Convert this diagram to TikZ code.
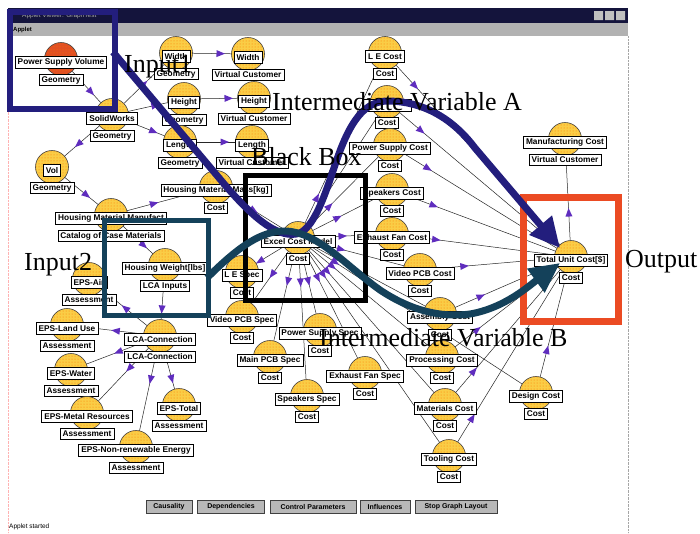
\documentclass[tikz,border=0pt]{standalone}
\usepackage{fontspec}
\setmainfont{Liberation Serif}
\setsansfont{Liberation Sans}
\usepackage{tikz}
\usetikzlibrary{arrows.meta,decorations.markings,patterns}
\definecolor{ballyellow}{RGB}{250,205,70}
\definecolor{ballred}{RGB}{225,80,35}
\definecolor{navyline}{RGB}{35,30,125}
\definecolor{tealline}{RGB}{20,65,90}
\definecolor{boxred}{RGB}{235,75,35}
\definecolor{arrowpurple}{RGB}{95,45,190}
\definecolor{titlebar}{RGB}{20,20,60}
\pgfdeclarelayer{bg}
\pgfdeclarelayer{edges}
\pgfsetlayers{bg,edges,main}
\tikzset{
  ball/.style={circle, draw=black!75, line width=.6pt, minimum size=33pt, inner sep=0pt,
    postaction={pattern=dots, pattern color=orange!90!red}},
  lbl/.style={draw, fill=white, line width=.7pt, font=\sffamily\bfseries\fontsize{8.3}{9}\selectfont,
    inner xsep=2.5pt, inner ysep=1pt, minimum height=11.5pt},
  link/.style={black!85, line width=.5pt, postaction={decorate},
    decoration={markings, mark=at position 45pt with {\fill[arrowpurple] (4pt,0pt) -- (-4.5pt,3.5pt) -- (-4.5pt,-3.5pt) -- cycle;}}},
  btn/.style={draw=black!75, fill=black!28, line width=.8pt, font=\sffamily\bfseries\fontsize{7}{8}\selectfont,
    minimum height=13pt, inner sep=1pt},
  big/.style={font=\fontsize{26}{30}\selectfont, inner sep=0pt, anchor=base west},
  small/.style={font=\sffamily\fontsize{6.5}{7}\selectfont, inner sep=0pt, anchor=west},
}
\newcommand{\Vnode}[6][ballyellow]{%
  \node[ball, fill=#1] (#2) at (#3,#4) {};
  \node[lbl] (#2-l) at (#3,#4+3.5) {#5};
  \node[lbl] (#2-s) at (#3,#4+21) {#6};}
\newcommand{\Link}[2]{\draw[link] (#1.center) -- (#2.center);}

\begin{document}
\begin{tikzpicture}[x=1pt,y=-1pt]
    \useasboundingbox (0,0) rectangle (700,533);
    \begin{pgfonlayer}{bg}
    \fill[white] (0,0) rectangle (700,533);
    \fill[titlebar] (8,8) rectangle (628,23);
    \fill[black!30] (8,23) rectangle (628,36);
    \fill[black!25] (594,11) rectangle (603,20) (605,11) rectangle (614,20) (616,11) rectangle (625,20);
    \draw[densely dotted, black!35] (628,36) -- (628,533);
    \draw[densely dotted, red!30] (8,36) -- (8,533);
    \end{pgfonlayer}
    \node[small, text=black!35] (title) at (22,15.5) {Applet Viewer: GraphTest};
    \node[small, font=\sffamily\bfseries\fontsize{6}{7}\selectfont] (menu) at (13,30) {Applet};
    \node[small] (status) at (9,527) {Applet started};

    \node[btn, minimum width=46pt] (b1) at (169,507) {Causality};
    \node[btn, minimum width=67pt] (b2) at (231,507) {Dependencies};
    \node[btn, minimum width=86pt] (b3) at (313,507) {Control Parameters};
    \node[btn, minimum width=50pt] (b4) at (385,507) {Influences};
    \node[btn, minimum width=82pt] (b5) at (456,507) {Stop Graph Layout};

    \Vnode[ballred]{psv}{61}{59}{Power Supply Volume}{Geometry}
    \Vnode{sw}{112}{115}{SolidWorks}{Geometry}
    \Vnode{wg}{176}{53}{Width}{Geometry}
    \Vnode{wv}{248}{54}{Width}{Virtual Customer}
    \Vnode{hg}{184}{99}{Height}{Geometry}
    \Vnode{hv}{254}{98}{Height}{Virtual Customer}
    \Vnode{lg}{180}{142}{Length}{Geometry}
    \Vnode{lv}{252}{142}{Length}{Virtual Customer}
    \Vnode{vol}{52}{167}{Vol}{Geometry}
    \Vnode{hmm}{216}{187}{Housing Material Mass[kg]}{Cost}
    \Vnode{hmf}{111}{215}{Housing Material Manufact}{Catalog of Case Materials}
    \Vnode{hw}{165}{265}{Housing Weight[lbs]}{LCA Inputs}
    \Vnode{air}{89}{279}{EPS-Air}{Assessment}
    \Vnode{land}{67}{325}{EPS-Land Use}{Assessment}
    \Vnode{lca}{160}{336}{LCA-Connection}{LCA-Connection}
    \Vnode{water}{71}{370}{EPS-Water}{Assessment}
    \Vnode{metal}{87}{413}{EPS-Metal Resources}{Assessment}
    \Vnode{epstot}{179}{405}{EPS-Total}{Assessment}
    \Vnode{nre}{136}{447}{EPS-Non-renewable Energy}{Assessment}
    \Vnode{ecm}{298}{238}{Excel Cost Model}{Cost}
    \Vnode{lespec}{242}{272}{L E Spec}{Cost}
    \Vnode{vidspec}{242}{317}{Video PCB Spec}{Cost}
    \Vnode{psspec}{320}{330}{Power Supply Spec}{Cost}
    \Vnode{mainspec}{270}{357}{Main PCB Spec}{Cost}
    \Vnode{fanspec}{365}{373}{Exhaust Fan Spec}{Cost}
    \Vnode{spkspec}{307}{396}{Speakers Spec}{Cost}
    \Vnode{lecost}{385}{53}{L E Cost}{Cost}
    \Vnode{xcost}{387}{102}{\hspace*{44pt}}{Cost}
    \Vnode{pscost}{390}{145}{Power Supply Cost}{Cost}
    \Vnode{spkcost}{392}{190}{Speakers Cost}{Cost}
    \Vnode{fancost}{392}{234}{Exhaust Fan Cost}{Cost}
    \Vnode{vidcost}{420}{270}{Video PCB Cost}{Cost}
    \Vnode{asmcost}{440}{314}{Assembly Cost}{Cost}
    \Vnode{proccost}{442}{357}{Processing Cost}{Cost}
    \Vnode{matcost}{445}{405}{Materials Cost}{Cost}
    \Vnode{toolcost}{449}{456}{Tooling Cost}{Cost}
    \Vnode{descost}{536}{393}{Design Cost}{Cost}
    \Vnode{mfgcost}{565}{139}{Manufacturing Cost}{Virtual Customer}
    \Vnode{total}{571}{257}{Total Unit Cost[\$]}{Cost}

    \begin{pgfonlayer}{edges}
    \Link{psv}{sw}
    \Link{sw}{wg}
    \Link{sw}{hg}
    \Link{sw}{lg}
    \Link{sw}{vol}
    \Link{wg}{wv}
    \Link{hg}{hv}
    \Link{lg}{lv}
    \Link{vol}{hmf}
    \Link{hmf}{hmm}
    \Link{hmf}{hw}
    \Link{hw}{lca}
    \Link{lca}{air}
    \Link{lca}{land}
    \Link{lca}{water}
    \Link{lca}{metal}
    \Link{lca}{nre}
    \Link{lca}{epstot}
    \Link{hmm}{ecm}
    \Link{ecm}{lecost}
    \Link{ecm}{xcost}
    \Link{ecm}{pscost}
    \Link{ecm}{spkcost}
    \Link{ecm}{fancost}
    \Link{ecm}{vidcost}
    \Link{ecm}{asmcost}
    \Link{ecm}{proccost}
    \Link{ecm}{matcost}
    \Link{ecm}{toolcost}
    \Link{ecm}{descost}
    \Link{ecm}{lespec}
    \Link{ecm}{vidspec}
    \Link{ecm}{mainspec}
    \Link{ecm}{psspec}
    \Link{ecm}{spkspec}
    \Link{ecm}{fanspec}
    \Link{lecost}{total}
    \Link{xcost}{total}
    \Link{pscost}{total}
    \Link{spkcost}{total}
    \Link{fancost}{total}
    \Link{vidcost}{total}
    \Link{asmcost}{total}
    \Link{proccost}{total}
    \Link{matcost}{total}
    \Link{toolcost}{total}
    \Link{descost}{total}
    \Link{total}{mfgcost}
    \end{pgfonlayer}

    \draw[navyline, line width=6pt] (10,12) rectangle (115,109);
    \draw[black, line width=5pt] (245,175) rectangle (365,300);
    \draw[tealline, line width=5pt] (104,220) rectangle (208,315);
    \draw[boxred, line width=7pt] (523,197) rectangle (618,321);

    \draw[navyline, line width=7pt, -{Triangle[length=30pt,width=28pt]}] (113,52) -- (225,185)
      .. controls (255,220) and (280,240) .. (300,233)
      .. controls (315,225) and (325,195) .. (335,165)
      .. controls (350,120) and (365,100) .. (390,101)
      .. controls (420,102) and (450,115) .. (475,148) -- (560,248);
    \draw[tealline, line width=7pt, -{Triangle[length=30pt,width=28pt]}] (207,278)
      .. controls (240,245) and (262,231) .. (285,231)
      .. controls (318,232) and (345,265) .. (380,290)
      .. controls (410,310) and (440,318) .. (470,314)
      .. controls (505,308) and (530,285) .. (560,263);

    \node[big] (in1) at (124,72) {Input1};
    \node[big] (inta) at (272,110) {Intermediate Variable A};
    \node[big] (bbox) at (251,165) {Black Box};
    \node[big] (in2) at (24,270) {Input2};
    \node[big] (outp) at (625,267) {Output};
    \node[big] (intb) at (319,346) {Intermediate Variable B};
  \end{tikzpicture}
\end{document}
